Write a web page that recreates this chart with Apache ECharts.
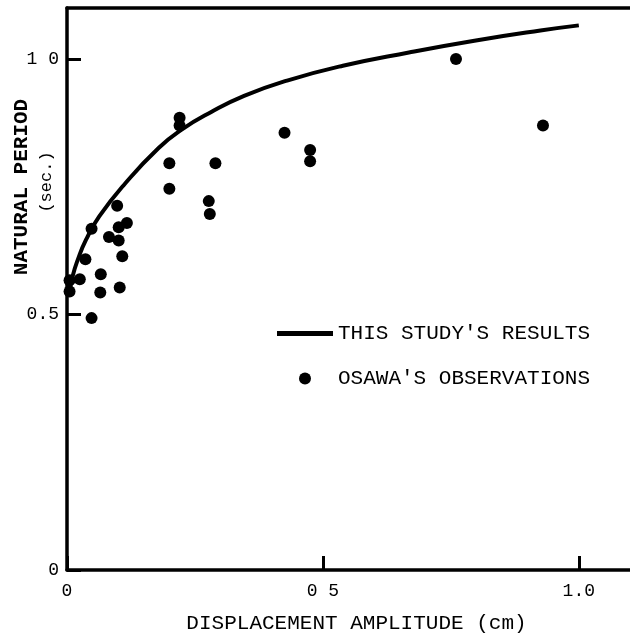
<!DOCTYPE html>
<html>
<head>
<meta charset="utf-8">
<script src="https://cdn.jsdelivr.net/npm/echarts@6/dist/echarts.min.js"></script>
<style>html,body{margin:0;padding:0;background:#fff}#c{width:630px;height:639px}</style>
</head>
<body>
<div id="c"></div>
<script>
// Curve: this study's results
const curveX = [0.005, 0.011, 0.021, 0.037, 0.063, 0.114, 0.179, 0.224, 0.281, 0.346, 0.430, 0.539, 0.668, 0.796, 0.925, 1.0];
const curveY = [0.542, 0.575, 0.607, 0.646, 0.692, 0.757, 0.826, 0.862, 0.896, 0.928, 0.958, 0.987, 1.013, 1.036, 1.056, 1.066];
// Osawa's observations
const obsX = [0.76, 0.93, 0.22, 0.22, 0.425, 0.475, 0.475, 0.20, 0.29, 0.20, 0.277, 0.279, 0.098, 0.117, 0.101, 0.082, 0.101, 0.048, 0.108, 0.036, 0.066, 0.025, 0.005, 0.005, 0.103, 0.065, 0.048];
const obsY = [1.0, 0.87, 0.885, 0.87, 0.856, 0.822, 0.800, 0.796, 0.796, 0.746, 0.722, 0.697, 0.713, 0.679, 0.671, 0.652, 0.645, 0.668, 0.614, 0.608, 0.579, 0.569, 0.567, 0.545, 0.553, 0.543, 0.493];
const xTickLabels = {0: '0', 0.5: '0 5', 1: '1.0'};
const yTickLabels = {0: '0', 0.5: '0.5', 1: '1 0'};
const seriesNames = ["THIS STUDY'S RESULTS", "OSAWA'S OBSERVATIONS"];

const FONT = '"Liberation Mono", "DejaVu Sans Mono", monospace';
const chart = echarts.init(document.getElementById('c'));
chart.setOption({
  animation: false,
  backgroundColor: '#fff',
  grid: {left: 67, top: 8, width: 570, height: 563, show: false},
  xAxis: [{
    type: 'value', min: 0, max: 1.1, interval: 0.5,
    axisLine: {show: true, lineStyle: {color: '#000', width: 3.5}},
    axisTick: {show: true, inside: true, length: 14, lineStyle: {color: '#000', width: 3}},
    splitLine: {show: false},
    axisLabel: {color: '#000', fontFamily: FONT, fontSize: 18, margin: 12, showMaxLabel: false,
      formatter: v => xTickLabels[v] !== undefined ? xTickLabels[v] : ''},
    name: 'DISPLACEMENT AMPLITUDE (cm)', nameLocation: 'middle', nameGap: 43,
    nameTextStyle: {color: '#000', fontFamily: FONT, fontSize: 21, padding: [0, 0, 0, 16]}
  }, {
    type: 'value', position: 'top', min: 0, max: 1.1,
    axisLine: {show: true, lineStyle: {color: '#000', width: 3.5}},
    axisTick: {show: false}, axisLabel: {show: false}, splitLine: {show: false}
  }],
  yAxis: {
    type: 'value', min: 0, max: 1.1, interval: 0.5,
    axisLine: {show: true, lineStyle: {color: '#000', width: 3.5}},
    axisTick: {show: true, inside: true, length: 14, lineStyle: {color: '#000', width: 3}},
    splitLine: {show: false},
    axisLabel: {color: '#000', fontFamily: FONT, fontSize: 18, margin: 8, showMaxLabel: false,
      formatter: v => yTickLabels[v] !== undefined ? yTickLabels[v] : ''}
  },
  legend: {
    orient: 'vertical', left: 272, top: 318, itemWidth: 56, itemHeight: 12, itemGap: 24,
    textStyle: {color: '#000', fontFamily: FONT, fontSize: 21},
    data: [{name: seriesNames[0], icon: 'path://M0,0L56,0L56,5L0,5Z'}, {name: seriesNames[1], icon: 'circle'}]
  },
  graphic: [
    {type: 'text', x: 22, y: 187, rotation: Math.PI / 2,
      style: {text: 'NATURAL PERIOD', font: 'bold 21px ' + FONT, fill: '#000', align: 'center', verticalAlign: 'middle'}},
    {type: 'text', x: 46, y: 182, rotation: Math.PI / 2,
      style: {text: '(sec.)', font: '17px ' + FONT, fill: '#000', align: 'center', verticalAlign: 'middle'}}
  ],
  series: [{
    name: seriesNames[0], type: 'line', smooth: 0.5, symbol: 'none',
    data: curveX.map((x, i) => [x, curveY[i]]),
    lineStyle: {color: '#000', width: 4}, itemStyle: {color: '#000'}
  }, {
    name: seriesNames[1], type: 'scatter', symbol: 'circle', symbolSize: 12,
    data: obsX.map((x, i) => [x, obsY[i]]),
    itemStyle: {color: '#000', opacity: 1}
  }]
});
</script>
</body>
</html>
